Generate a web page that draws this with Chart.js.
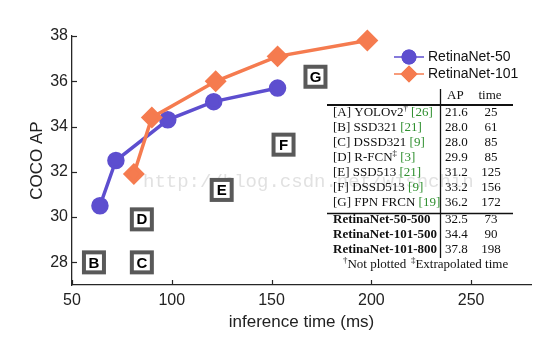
<!DOCTYPE html>
<html>
<head>
<meta charset="utf-8">
<script src="https://cdn.jsdelivr.net/npm/chart.js@4"></script>
<style>
  body { margin: 0; background: #fff; }
  #caixa { width: 557px; height: 342px; position: relative; }
</style>
</head>
<body>
<div id="caixa"><canvas id="grafico"></canvas></div>
<script>
// RetinaNet curves (inference time in ms, COCO AP)
const tempo50 = [64, 72, 98, 121, 153];
const ap50 = [30.5, 32.5, 34.3, 35.1, 35.7];
const tempo101 = [81, 90, 122, 153, 198];
const ap101 = [31.9, 34.4, 36.0, 37.1, 37.8];

const xTicks = [50, 100, 150, 200, 250];
const yTicks = [28, 30, 32, 34, 36, 38];

// table of other detectors
const letras = ['A', 'B', 'C', 'D', 'E', 'F', 'G'];
const metodos = ['YOLOv2', 'SSD321', 'DSSD321', 'R-FCN', 'SSD513', 'DSSD513', 'FPN FRCN'];
const marcas = ['†', '', '', '‡', '', '', ''];
const refs = ['[26]', '[21]', '[9]', '[3]', '[21]', '[9]', '[19]'];
const apTabela = [21.6, 28.0, 28.0, 29.9, 31.2, 33.2, 36.2];
const tempoTabela = [25, 61, 85, 85, 125, 156, 172];

const retinaNomes = ['RetinaNet-50-500', 'RetinaNet-101-500', 'RetinaNet-101-800'];
const retinaAP = [32.5, 34.4, 37.8];
const retinaTempo = [73, 90, 198];

const roxo = '#5d4ecf';
const laranja = '#f57b4f';
const verde = '#2f8f2f';
const sans = '"Liberation Sans", Arial, sans-serif';
const serif = '"Liberation Serif", "Times New Roman", serif';

Chart.defaults.font.family = sans;

// texto com pedaços (cor / sobrescrito)
const escreve = (ctx, x, y, partes, tam, negrito) => {
  partes.forEach(p => {
    const t = p.sup ? tam * 0.68 : tam;
    ctx.font = `${negrito ? 'bold ' : ''}${t}px ${serif}`;
    ctx.fillStyle = p.cor || '#111';
    ctx.fillText(p.t, x, p.sup ? y - tam * 0.35 : y);
    x += ctx.measureText(p.t).width;
  });
};

const extras = {
  id: 'extras',
  beforeDatasetsDraw(chart) {
    const { ctx } = chart;
    ctx.save();
    ctx.font = '19px "Liberation Mono", monospace';
    ctx.fillStyle = 'rgba(205,205,205,0.6)';
    ctx.textBaseline = 'middle';
    ctx.fillText('http://blog.csdn.net/wishchin', 143, 182);
    ctx.restore();
  },
  afterDatasetsDraw(chart) {
    const { ctx } = chart;
    const x = chart.scales.x, y = chart.scales.y;
    ctx.save();

    // ticks para dentro
    ctx.strokeStyle = '#262626';
    ctx.lineWidth = 1.2;
    x.ticks.forEach(t => {
      const px = Math.round(x.getPixelForValue(t.value)) + 0.5;
      ctx.beginPath(); ctx.moveTo(px, x.top); ctx.lineTo(px, x.top - 5); ctx.stroke();
    });
    y.ticks.forEach(t => {
      const py = Math.round(y.getPixelForValue(t.value)) + 0.5;
      ctx.beginPath(); ctx.moveTo(y.right, py); ctx.lineTo(y.right + 5, py); ctx.stroke();
    });

    // letter boxes
    ctx.textAlign = 'center';
    ctx.textBaseline = 'middle';
    letras.forEach((l, i) => {
      const t = tempoTabela[i], a = apTabela[i];
      if (t < x.min || a < y.min) return;
      const px = x.getPixelForValue(t), py = y.getPixelForValue(a);
      ctx.fillStyle = '#595959';
      ctx.fillRect(px - 12, py - 12, 24, 24);
      ctx.fillStyle = '#fff';
      ctx.fillRect(px - 8, py - 8, 16, 16);
      ctx.fillStyle = '#000';
      ctx.font = `bold 15px ${sans}`;
      ctx.fillText(l, px, py + 1);
    });

    // legend
    const legenda = [
      { nome: chart.data.datasets[0].label, cor: roxo, estilo: 'circle', r: 7.5, y: 57 },
      { nome: chart.data.datasets[1].label, cor: laranja, estilo: 'rectRot', r: 8.5, y: 74 }
    ];
    legenda.forEach(l => {
      ctx.strokeStyle = l.cor;
      ctx.lineWidth = 1.5;
      ctx.beginPath(); ctx.moveTo(394, l.y); ctx.lineTo(424, l.y); ctx.stroke();
      ctx.fillStyle = l.cor;
      Chart.helpers.drawPoint(ctx, { pointStyle: l.estilo, radius: l.r, borderWidth: 0 }, 409, l.y);
      ctx.fill();
      ctx.fillStyle = '#111';
      ctx.font = `14px ${sans}`;
      ctx.textAlign = 'left';
      ctx.fillText(l.nome, 428, l.y);
    });

    // table
    ctx.textAlign = 'left';
    ctx.textBaseline = 'middle';
    ctx.strokeStyle = '#111';
    ctx.lineWidth = 1.8;
    ctx.beginPath(); ctx.moveTo(327, 105); ctx.lineTo(513, 105); ctx.stroke();
    ctx.lineWidth = 1.3;
    ctx.beginPath(); ctx.moveTo(327, 213.5); ctx.lineTo(513, 213.5); ctx.stroke();
    ctx.beginPath(); ctx.moveTo(440.5, 89); ctx.lineTo(440.5, 258); ctx.stroke();

    const tam = 13;
    escreve(ctx, 447, 96, [{ t: 'AP' }], tam);
    ctx.textAlign = 'center';
    ctx.font = `${tam}px ${serif}`;
    ctx.fillStyle = '#111';
    ctx.fillText('time', 490, 96);

    metodos.forEach((m, i) => {
      const yy = 113 + i * 15;
      ctx.textAlign = 'left';
      const partes = [{ t: `[${letras[i]}] ${m}` }];
      if (marcas[i]) partes.push({ t: marcas[i], sup: true });
      partes.push({ t: ' ' }, { t: refs[i], cor: verde });
      escreve(ctx, 333, yy, partes, tam);
      escreve(ctx, 445, yy, [{ t: apTabela[i].toFixed(1) }], tam);
      ctx.textAlign = 'center';
      ctx.font = `${tam}px ${serif}`;
      ctx.fillStyle = '#111';
      ctx.fillText(String(tempoTabela[i]), 491, yy);
    });

    retinaNomes.forEach((n, i) => {
      const yy = 220 + i * 15;
      ctx.textAlign = 'left';
      escreve(ctx, 333, yy, [{ t: n }], tam, true);
      escreve(ctx, 445, yy, [{ t: retinaAP[i].toFixed(1) }], tam);
      ctx.textAlign = 'center';
      ctx.font = `${tam}px ${serif}`;
      ctx.fillStyle = '#111';
      ctx.fillText(String(retinaTempo[i]), 491, yy);
    });

    ctx.textAlign = 'left';
    escreve(ctx, 343, 265, [{ t: '†', sup: true }, { t: 'Not plotted' }], tam);
    escreve(ctx, 411, 265, [{ t: '‡', sup: true }, { t: 'Extrapolated time' }], tam);

    ctx.restore();
  }
};

const ctx = document.getElementById('grafico').getContext('2d');
new Chart(ctx, {
  type: 'line',
  data: {
    datasets: [
      {
        label: 'RetinaNet-50',
        data: tempo50.map((t, i) => ({ x: t, y: ap50[i] })),
        borderColor: roxo,
        backgroundColor: roxo,
        borderWidth: 3.5,
        pointStyle: 'circle',
        pointRadius: 7,
        pointHoverRadius: 7,
        clip: false,
        order: 1
      },
      {
        label: 'RetinaNet-101',
        data: tempo101.map((t, i) => ({ x: t, y: ap101[i] })),
        borderColor: laranja,
        backgroundColor: laranja,
        borderWidth: 3.5,
        pointStyle: 'rectRot',
        pointRadius: 8.5,
        pointHoverRadius: 8.5,
        clip: false,
        order: 0
      }
    ]
  },
  options: {
    responsive: true,
    maintainAspectRatio: false,
    animation: false,
    layout: { padding: { top: 36, right: 26, left: 0, bottom: 0 } },
    plugins: { legend: { display: false }, tooltip: { enabled: false } },
    scales: {
      x: {
        type: 'linear',
        min: 50,
        max: 280,
        grid: { display: false, drawTicks: false },
        border: { color: '#262626', width: 1.3 },
        ticks: { font: { size: 16 }, color: '#222', padding: 6 },
        afterBuildTicks: s => { s.ticks = xTicks.map(v => ({ value: v })); },
        afterFit: s => { s.height = 57; },
        title: {
          display: true, text: 'inference time (ms)', color: '#222',
          font: { size: 17 }, padding: { top: 0, bottom: 9 }
        }
      },
      y: {
        min: 27,
        max: 38,
        grid: { display: false, drawTicks: false },
        border: { color: '#262626', width: 1.3 },
        ticks: { font: { size: 16 }, color: '#222', padding: 4 },
        afterBuildTicks: s => { s.ticks = yTicks.map(v => ({ value: v })); },
        afterFit: s => { s.width = 72; },
        title: {
          display: true, text: 'COCO AP', color: '#222',
          font: { size: 17 }, padding: { top: 27, bottom: 0 }
        }
      }
    }
  },
  plugins: [extras]
});
</script>
</body>
</html>
